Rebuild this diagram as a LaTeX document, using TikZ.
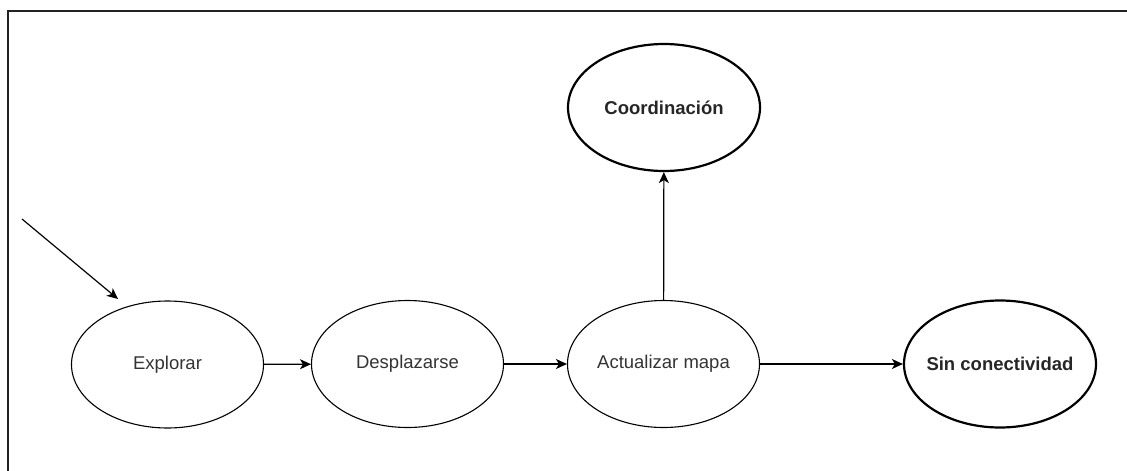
\documentclass[tikz,border=0pt]{standalone}
\usepackage{fontspec}
\setmainfont{Liberation Sans}
\usetikzlibrary{shapes.geometric,arrows.meta}
\definecolor{txt}{HTML}{333333}
\definecolor{frame}{HTML}{222222}
% centred label whose width does not enlarge the ellipse
\newcommand{\lbl}[1]{\makebox[0pt][c]{#1}}
\begin{document}
\begin{tikzpicture}[x=1pt,y=-1pt,
  state/.style={draw=black,ellipse,line width=1.1pt,minimum width=192pt,minimum height=127pt,
    inner sep=0pt,font=\fontsize{18.5}{22}\selectfont,text=txt},
  final/.style={state,line width=2.2pt,font=\fontsize{18.5}{22}\selectfont\bfseries,text=black!85},
  flow/.style={draw=black,line width=1.2pt,-{Stealth[length=11pt,width=10pt,inset=3pt]}}]
\useasboundingbox (0,0) rectangle (1127,471);
% open frame: only the top and left edges
\draw[frame,line width=2pt] (8,471) -- (8,11) -- (1127,11);

\node[state] (explorar) at (167.5,364.5) {\lbl{Explorar}};
\node[state] (desplazarse) at (407.5,364) {\lbl{Desplazarse}};
\node[state] (actualizar) at (663.5,364) {\lbl{Actualizar mapa}};
\node[final] (coord) at (664,107.5) {\lbl{Coordinación}};
\node[final] (sinconec) at (1000,364) {\lbl{Sin conectividad}};

\coordinate (start) at (22,219);
\draw[flow] (start) -- (118,299);
\draw[flow] (explorar) -- (desplazarse);
\draw[flow] (desplazarse) -- (actualizar);
\draw[flow] (actualizar) -- (sinconec);
\draw[flow] (actualizar) -- (coord);
\end{tikzpicture}
\end{document}
